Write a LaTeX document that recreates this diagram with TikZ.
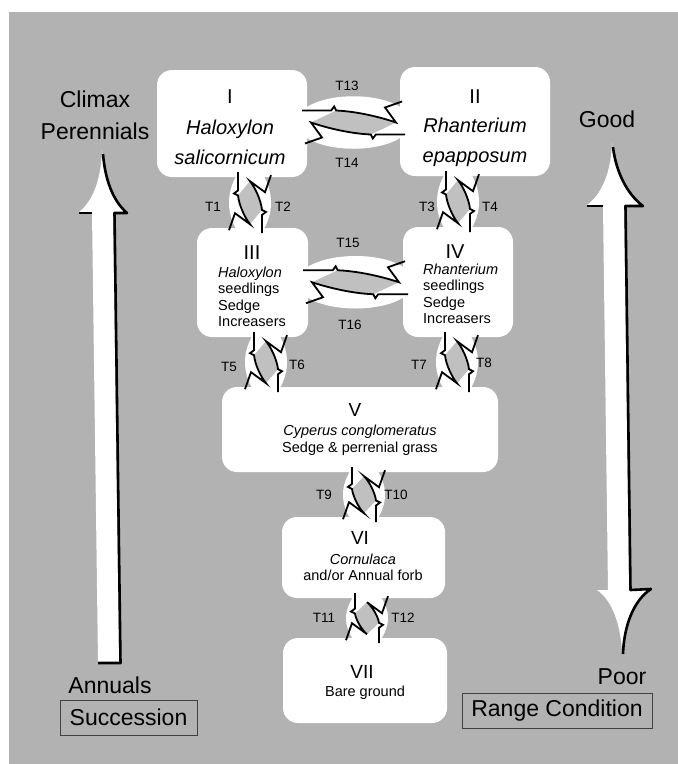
\documentclass[tikz,border=0pt]{standalone}
\usepackage{fontspec}
\setmainfont{Liberation Sans}
\usetikzlibrary{calc}
\definecolor{bg}{RGB}{178,178,178}
\definecolor{sliv}{RGB}{192,192,192}
% #1 half gap, #2 bulge, #3 transform
\newcommand\boltband[3]{\fill[white,#3] (-#1-8,-9) .. controls (-#1+12,-#2) and (#1-12,-#2) .. (#1+8,-9) -- (#1+8,9) .. controls (#1-12,#2) and (-#1+12,#2) .. (-#1-8,9) -- cycle;}
\newcommand\boltsliver[2]{\fill[sliv,#2] ({-0.48*#1+5},-12) .. controls ({0.1*#1},-11) and ({0.6*#1},-5) .. (#1-4,0) -- ({0.48*#1-5},12) .. controls ({-0.1*#1},11) and ({-0.6*#1},5) .. (-#1+4,0) -- cycle;}
\newcommand\boltlines[2]{%
\draw[boltln,#2] (-#1-5,-12) -- ({-0.48*#1},-12) -- ({-0.48*#1+3},-16) -- ({-0.48*#1+5},-12) .. controls ({0.1*#1},-11) and ({0.6*#1},-5) .. (#1-4,0) -- (#1-15,-15) -- (#1+2,-21);
\draw[boltln,#2] (#1+5,12) -- ({0.48*#1},12) -- ({0.48*#1-3},16) -- ({0.48*#1-5},12) .. controls ({-0.1*#1},11) and ({-0.6*#1},5) .. (-#1+4,0) -- (-#1+15,15) -- (-#1-2,21);}
\begin{document}
\begin{tikzpicture}[x=1pt,y=-1pt,
  box/.style={fill=white, rounded corners=15pt, inner sep=0pt, draw=none},
  hz/.style={cm={1,0,0,1,(#1)}},
  vt/.style={cm={0,-1,-1,0,(#1)}},
  boltln/.style={line width=1.8pt, black, line join=miter, line cap=butt},
  tlab/.style={font=\fontsize{13.5}{15}\selectfont, inner sep=0pt},
  side/.style={font=\fontsize{23}{32}\selectfont, inner sep=0pt, align=center},
  big/.style={font=\fontsize{20}{30}\selectfont, inner sep=0pt, align=center},
  num/.style={font=\fontsize{19}{22}\selectfont, inner sep=0pt},
  small/.style={font=\fontsize{14.5}{16.5}\selectfont, inner sep=0pt},
  arrowedge/.style={line width=2.6pt, black, line join=round}]
\useasboundingbox (0,0) rectangle (678,764);
\fill[white] (0,0) rectangle (678,764);
\fill[bg] (9,12) rectangle (678,764);

% big arrows
\fill[white] (102,150) .. controls (101,178) and (94,200) .. (79,212) -- (92,212) -- (98,662) -- (119,662) -- (113,212) -- (126,212) .. controls (112,200) and (104,178) .. (102,150) -- cycle;
\draw[arrowedge] (103,154) .. controls (105,178) and (112,200) .. (127,213) -- (114.5,213) -- (120.5,663) -- (98,663);
\draw[line width=1.5pt] (79,213) -- (92,213);
\fill[white] (612,143) .. controls (611,172) and (602,194) .. (587,205) -- (603,205) -- (608,590) -- (597,590) .. controls (612,600) and (621,625) .. (622,653) .. controls (623,625) and (634,600) .. (650,590) -- (629,590) -- (624,205) -- (642,205) .. controls (626,194) and (614,172) .. (612,143) -- cycle;
\draw[arrowedge] (613,147) .. controls (616,172) and (627,194) .. (643,206) -- (625.5,206) -- (630.5,590) -- (651,589) .. controls (634,600) and (624,625) .. (623,654);
\draw[line width=1.5pt] (587,206) -- (603,206);

% boxes
\node[box, minimum width=150pt, minimum height=107pt] (I) at (232,123.5) {};
\node[box, minimum width=150pt, minimum height=109pt] (II) at (475,121.5) {};
\node[box, minimum width=111pt, minimum height=109pt] (III) at (252.5,282.5) {};
\node[box, minimum width=110pt, minimum height=110pt] (IV) at (458,282) {};
\node[box, minimum width=276pt, minimum height=85pt] (V) at (360,429.5) {};
\node[box, minimum width=163pt, minimum height=81pt] (VI) at (363.5,557.5) {};
\node[box, minimum width=164pt, minimum height=85pt] (VII) at (365,680.5) {};

\coordinate (cA) at ($(I.east)!0.5!(II.west)$);
\coordinate (cB) at ($(III.east)!0.5!(IV.west)$);
\coordinate (c1) at ($(I.south)+(18,25.5)$);
\coordinate (c2) at ($(II.south)+(-17,25.5)$);
\coordinate (c3) at ($(III.south)+(13.5,25)$);
\coordinate (c4) at ($(IV.south)+(-1,25)$);
\coordinate (c5) at ($(V.south)+(4,22.5)$);
\coordinate (c6) at ($(VI.south)+(3.5,20)$);

\boltband{46.5}{32}{hz=cA}
\boltband{47.5}{32}{hz=cB}
\boltband{25.5}{25}{vt=c1}
\boltband{25.5}{25}{vt=c2}
\boltband{25}{25}{vt=c3}
\boltband{25}{25}{vt=c4}
\boltband{22.5}{25}{vt=c5}
\boltband{20}{25}{vt=c6}

\boltsliver{46.5}{hz=cA}
\boltsliver{47.5}{hz=cB}
\boltsliver{25.5}{vt=c1}
\boltsliver{25.5}{vt=c2}
\boltsliver{25}{vt=c3}
\boltsliver{25}{vt=c4}
\boltsliver{22.5}{vt=c5}
\boltsliver{20}{vt=c6}

\boltlines{46.5}{hz=cA}
\boltlines{47.5}{hz=cB}
\boltlines{25.5}{vt=c1}
\boltlines{25.5}{vt=c2}
\boltlines{25}{vt=c3}
\boltlines{25}{vt=c4}
\boltlines{22.5}{vt=c5}
\boltlines{20}{vt=c6}

% box texts
\node[big] (nI) at (230,97) {I};
\node[big] (tI) at (230,142) {\itshape Haloxylon\\\itshape salicornicum};
\node[big] (nII) at (475,97) {II};
\node[big] (tII) at (475,142) {\itshape Rhanterium\\\itshape epapposum};
\node[big] (nIII) at (252,253) {III};
\node[small, align=left, anchor=west] (tIII) at (218,297) {\itshape Haloxylon\\seedlings\\Sedge\\Increasers};
\node[big] (nIV) at (455,252) {IV};
\node[small, align=left, anchor=west] (tIV) at (423,294) {\itshape Rhanterium\\seedlings\\Sedge\\Increasers};
\node[num] (nV) at (355,410) {V};
\node[small, align=center] (tV) at (360,440) {\itshape Cyperus conglomeratus\\Sedge \& perrenial grass};
\node[num] (nVI) at (360,538) {VI};
\node[small, align=center] (tVI) at (363,567.5) {\itshape Cornulaca\\and/or Annual forb};
\node[num] (nVII) at (362,672) {VII};
\node[small] (tVII) at (365,693) {Bare ground};

% transition labels
\node[tlab] (T13) at (347,86) {T13};
\node[tlab] (T14) at (347,163) {T14};
\node[tlab] (T1) at (213,207) {T1};
\node[tlab] (T2) at (283,207) {T2};
\node[tlab] (T3) at (427,207) {T3};
\node[tlab] (T4) at (490,207) {T4};
\node[tlab] (T15) at (348,243) {T15};
\node[tlab] (T16) at (350,325) {T16};
\node[tlab] (T5) at (229,367) {T5};
\node[tlab] (T6) at (297,365) {T6};
\node[tlab] (T7) at (419,365) {T7};
\node[tlab] (T8) at (484,363) {T8};
\node[tlab] (T9) at (324,495) {T9};
\node[tlab] (T10) at (396,495) {T10};
\node[tlab] (T11) at (324,618) {T11};
\node[tlab] (T12) at (403,618) {T12};

% side labels
\node[side] (climax) at (95,115) {Climax\\Perennials};
\node[side] (good) at (607,119) {Good};
\node[side] (annuals) at (110,685) {Annuals};
\node[side] (poor) at (622,677) {Poor};
\node[side, draw=black!75, line width=1pt, minimum width=137pt, minimum height=35pt] (succ) at (128.5,717.5) {Succession};
\node[side, draw=black!75, line width=1pt, minimum width=190pt, minimum height=35pt] (range) at (557,710.5) {Range Condition};
\end{tikzpicture}
\end{document}
